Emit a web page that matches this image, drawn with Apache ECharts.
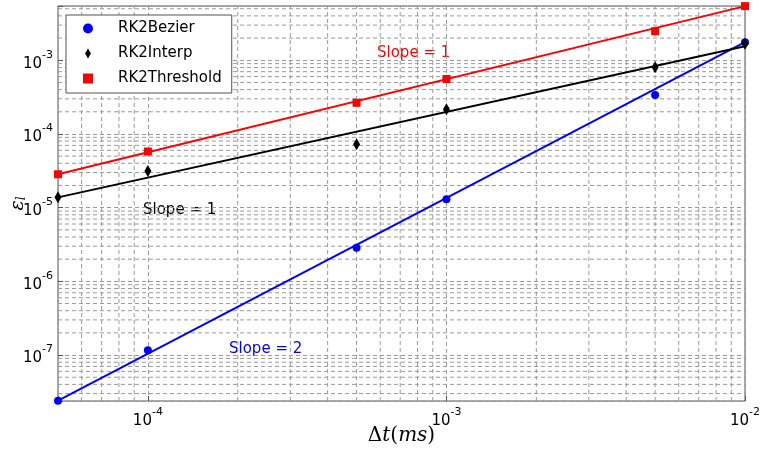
<!DOCTYPE html>
<html>
<head>
<meta charset="utf-8">
<script src="https://cdn.jsdelivr.net/npm/echarts@6/dist/echarts.min.js"></script>
<style>
  html, body { margin: 0; padding: 0; background: #fff; }
  #chart { width: 765px; height: 453px; }
</style>
</head>
<body>
<div id="chart"></div>
<script>
// time steps (ms)
var dtValues = [5e-5, 1e-4, 5e-4, 1e-3, 5e-3, 1e-2];
// error values
var bezierErr = [2.4e-8, 1.16e-7, 2.86e-6, 1.3e-5, 3.37e-4, 1.76e-3];
var interpErr = [1.38e-5, 3.15e-5, 7.26e-5, 2.17e-4, 8.03e-4, 1.67e-3];
var thresholdErr = [2.84e-5, 5.78e-5, 2.65e-4, 5.57e-4, 2.48e-3, 5.43e-3];
// fitted lines, end points
var fitDt = [5e-5, 1e-2];
var bezierFit = [2.4e-8, 1.76e-3];
var interpFit = [1.38e-5, 1.55e-3];
var thresholdFit = [2.84e-5, 5.43e-3];

var FONT = 'DejaVu Sans';
var gridStyle = { type: [4, 3], color: '#9a9a9a', width: 1 };

var xMin = 5e-5, xMax = 1e-2;
var yMin = 2.38e-8, yMax = 5.45e-3;

function pairs(xs, ys) {
  return xs.map(function (x, i) { return [x, ys[i]]; });
}

// values k * 10^n (k = 2..9) inside (lo, hi), for the minor grid
function minorValues(lo, hi) {
  var out = [];
  for (var n = -9; n <= -1; n++) {
    for (var k = 2; k <= 9; k++) {
      var v = k * Math.pow(10, n);
      if (v > lo && v < hi) out.push(v);
    }
  }
  return out;
}

// one broken polyline holding all the minor grid segments
function minorGridData() {
  var d = [];
  minorValues(xMin, xMax).forEach(function (v) {
    d.push([v, yMin], [v, yMax], ['-', '-']);
  });
  minorValues(yMin, yMax).forEach(function (v) {
    d.push([xMin, v], [xMax, v], ['-', '-']);
  });
  return d;
}

function powLabel(v) {
  var l = Math.log10(v);
  var e = Math.round(l);
  if (Math.abs(l - e) > 1e-6) return '';
  return '{b|10}{e|' + e + '}';
}

var tickRich = {
  b: { fontFamily: FONT, fontSize: 15, color: '#000', lineHeight: 22, verticalAlign: 'bottom' },
  e: { fontFamily: FONT, fontSize: 11, color: '#000', lineHeight: 12, verticalAlign: 'top' }
};

var chart = echarts.init(document.getElementById('chart'));
chart.setOption({
  animation: false,
  backgroundColor: '#fff',
  grid: {
    left: 58, right: 20, top: 6, bottom: 52,
    containLabel: false,
    outerBoundsMode: 'none',
    show: true, borderColor: '#555', borderWidth: 1, backgroundColor: 'transparent'
  },
  legend: {
    orient: 'vertical',
    left: 66, top: 15,
    backgroundColor: '#fff',
    borderColor: '#555',
    borderWidth: 1,
    borderRadius: 0,
    padding: [6, 10, 7, 17],
    itemWidth: 40,
    itemHeight: 10,
    itemGap: 10,
    textStyle: { fontFamily: FONT, fontSize: 15, color: '#000', padding: [0, 0, 0, 5] },
    data: [
      { name: 'RK2Bezier', icon: 'circle' },
      { name: 'RK2Interp', icon: 'path://M0,6L3.5,0L7,6L3.5,12Z' },
      { name: 'RK2Threshold', icon: 'path://M0,0L8,0L8,8L0,8Z' }
    ]
  },
  xAxis: {
    type: 'log',
    logBase: 10,
    min: xMin, max: xMax,
    name: '{n|Δ}{i|t}{n|(}{i|ms}{n|)}',
    nameLocation: 'middle',
    nameMoveOverlap: false,
    nameGap: 25,
    nameTextStyle: {
      rich: {
        n: { fontFamily: 'DejaVu Serif', fontSize: 20, color: '#000' },
        i: { fontFamily: 'DejaVu Serif', fontStyle: 'italic', fontSize: 20, color: '#000' }
      }
    },
    axisLine: { show: false },
    axisTick: { show: true, inside: true, length: 5, lineStyle: { color: '#555' } },
    axisLabel: { margin: 6, formatter: powLabel, rich: tickRich },
    splitLine: { show: true, lineStyle: gridStyle }
  },
  yAxis: {
    type: 'log',
    logBase: 10,
    min: yMin, max: yMax,
    name: '{g|ε}{s|l}',
    nameLocation: 'middle',
    nameRotate: 90,
    nameMoveOverlap: false,
    nameGap: 30,
    nameTextStyle: {
      rich: {
        g: { fontFamily: 'DejaVu Serif', fontStyle: 'italic', fontSize: 19, color: '#000', lineHeight: 20, verticalAlign: 'bottom' },
        s: { fontFamily: 'DejaVu Serif', fontStyle: 'italic', fontSize: 12, color: '#000', lineHeight: 14, verticalAlign: 'bottom' }
      }
    },
    axisLine: { show: false },
    axisTick: { show: true, inside: true, length: 5, lineStyle: { color: '#555' } },
    axisLabel: { margin: 5, formatter: powLabel, rich: tickRich },
    splitLine: { show: true, lineStyle: gridStyle }
  },
  graphic: [
    { type: 'text', left: 377, top: 46, style: { text: 'Slope = 1', fill: '#ff0000', font: '15px "DejaVu Sans"' } },
    { type: 'text', left: 143, top: 203, style: { text: 'Slope = 1', fill: '#000', font: '15px "DejaVu Sans"' } },
    { type: 'text', left: 229, top: 342, style: { text: 'Slope = 2', fill: '#0000ff', font: '15px "DejaVu Sans"' } }
  ],
  series: [
    {
      name: 'minor grid',
      type: 'line',
      data: minorGridData(),
      showSymbol: false,
      symbol: 'none',
      connectNulls: false,
      silent: true,
      lineStyle: gridStyle,
      z: 1
    },
    {
      name: 'Bezier fit', type: 'line', data: pairs(fitDt, bezierFit),
      showSymbol: false, lineStyle: { color: '#0000ff', width: 2 }, z: 3
    },
    {
      name: 'Interp fit', type: 'line', data: pairs(fitDt, interpFit),
      showSymbol: false, lineStyle: { color: '#000', width: 2 }, z: 3
    },
    {
      name: 'Threshold fit', type: 'line', data: pairs(fitDt, thresholdFit),
      showSymbol: false, lineStyle: { color: '#ff0000', width: 2 }, z: 3
    },
    {
      name: 'RK2Bezier', type: 'scatter', data: pairs(dtValues, bezierErr),
      symbol: 'circle', symbolSize: 8, itemStyle: { color: '#0000ff', opacity: 1 }, z: 4
    },
    {
      name: 'RK2Interp', type: 'scatter', data: pairs(dtValues, interpErr),
      symbol: 'diamond', symbolSize: [7, 12], itemStyle: { color: '#000', opacity: 1 }, z: 4
    },
    {
      name: 'RK2Threshold', type: 'scatter', data: pairs(dtValues, thresholdErr),
      symbol: 'rect', symbolSize: 8, itemStyle: { color: '#ff0000', opacity: 1 }, z: 4
    }
  ]
});
</script>
</body>
</html>
